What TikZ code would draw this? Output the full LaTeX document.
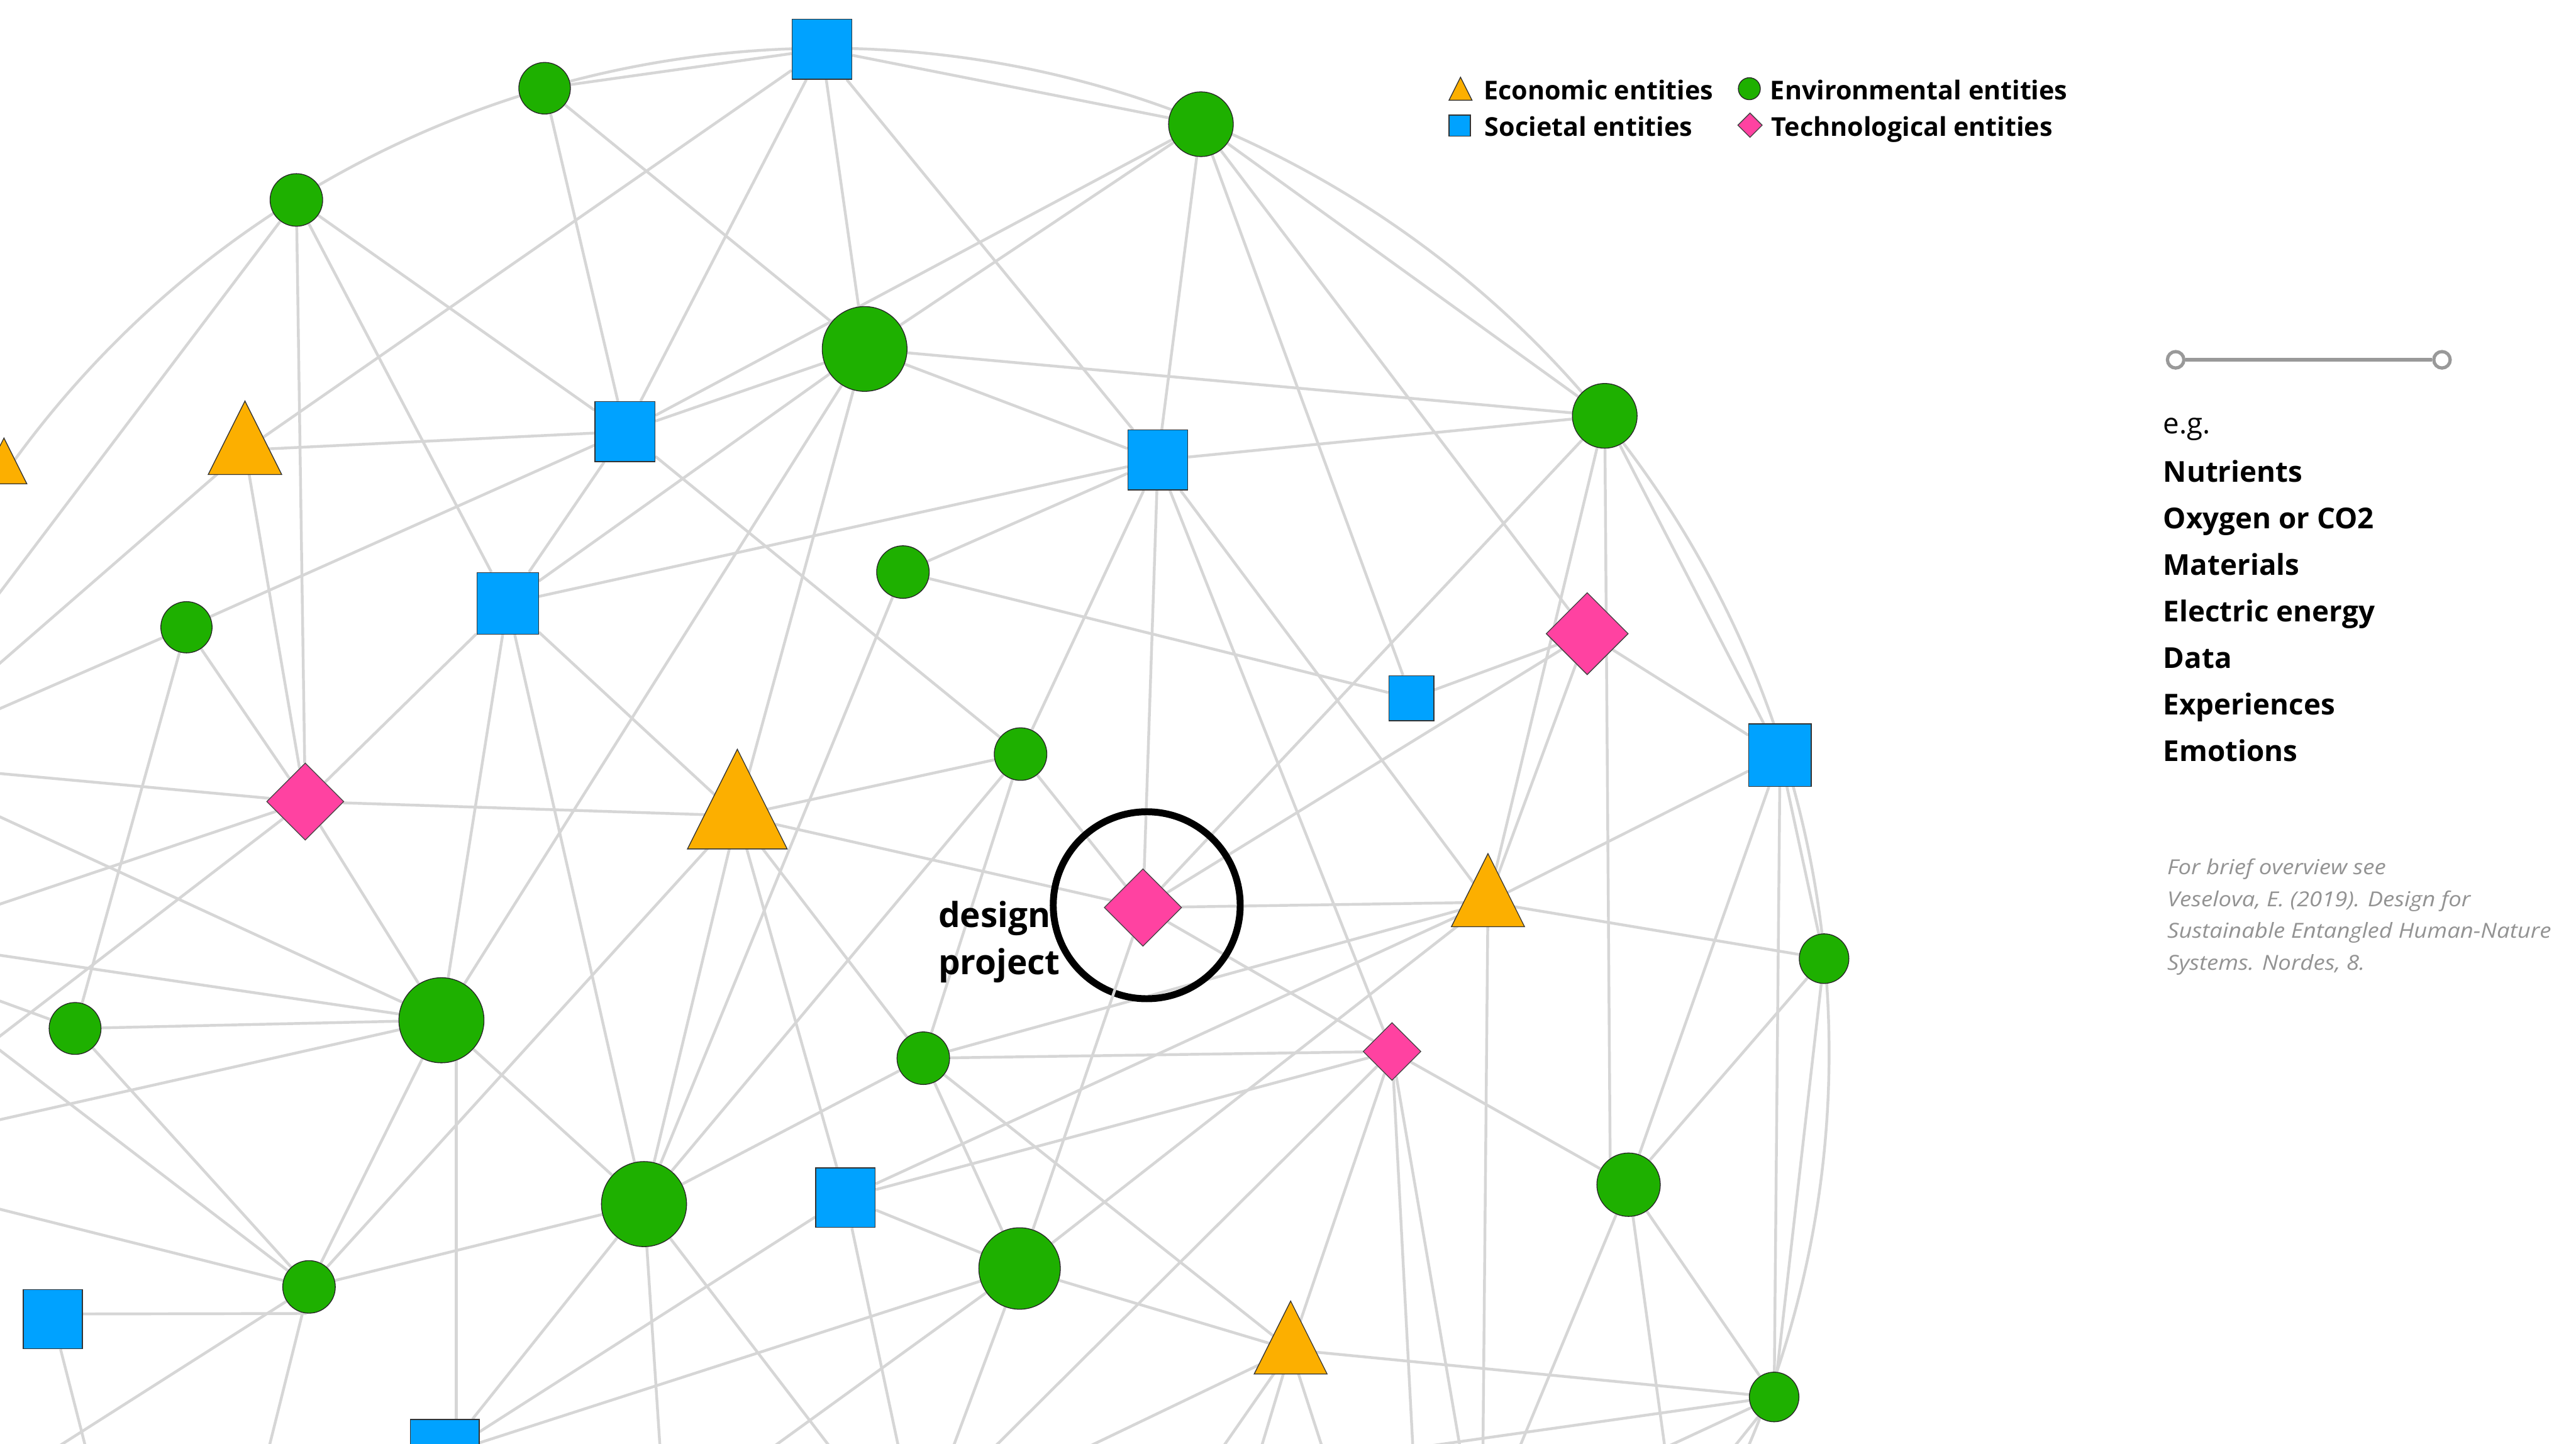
\documentclass[tikz,border=0pt]{standalone}
\usepackage{fontspec}
\setmainfont{Open Sans}
\usetikzlibrary{shapes.geometric,calc}
\pgfdeclarelayer{paper}
\pgfdeclarelayer{links}
\pgfsetlayers{paper,links,main}

\definecolor{envgreen}{HTML}{1EB000}
\definecolor{socblue}{HTML}{00A2FF}
\definecolor{ecoorange}{HTML}{FCAF00}
\definecolor{techpink}{HTML}{FF42A1}
\definecolor{edgegray}{HTML}{D6D6D6}
\definecolor{citegray}{HTML}{939393}
\definecolor{slidergray}{HTML}{999999}

% economic entity: isosceles triangle around its centroid (name, x, y, height)
\newcommand\econtri[4]{%
  \coordinate (#1) at (#2,#3);
  \filldraw[econ] ($(#1)+(0,-2/3*#4)$) -- ($(#1)+(-0.5*#4,1/3*#4)$)
     -- ($(#1)+(0.5*#4,1/3*#4)$) -- cycle;}
% citation lines are set slightly wide
\newcommand\citeline[1]{\scalebox{1.11}[1]{#1}}

\begin{document}
\begin{tikzpicture}[x=1pt,y=-1pt,
  link/.style={draw=edgegray, line width=1.7pt},
  env/.style={circle, fill=envgreen, draw=black!85, line width=0.5pt, inner sep=0pt},
  soc/.style={rectangle, fill=socblue, draw=black!80, line width=0.5pt, inner sep=0pt},
  tech/.style={diamond, aspect=1, fill=techpink, draw=black!75, line width=0.5pt, inner sep=0pt},
  econ/.style={fill=ecoorange, draw=black!80, line width=0.5pt},
  legendtext/.style={anchor=base west, inner sep=0pt, font=\fontsize{15.8}{19}\selectfont\bfseries},
  listtext/.style={anchor=base west, inner sep=0pt, font=\fontsize{17.5}{21}\selectfont\bfseries},
  citetext/.style={anchor=base west, inner sep=0pt, text=citegray, font=\fontsize{12.6}{15}\selectfont\itshape},
  labeltext/.style={anchor=base west, inner sep=0pt, font=\fontsize{21}{26}\selectfont\bfseries},
  knob/.style={circle, draw=slidergray, fill=white, line width=2pt, minimum size=10pt, inner sep=0pt}]

\begin{pgfonlayer}{paper}
  \fill[white] (0,0) rectangle (1568,878.65);
\end{pgfonlayer}
\useasboundingbox (0,0) rectangle (1568,878.65);

% environmental entities
\node[env, minimum size=31.4pt] (E1) at (331.5,53.7) {};
\node[env, minimum size=39.4pt] (E2) at (731,75.6) {};
\node[env, minimum size=32pt]   (E3) at (180.4,121.7) {};
\node[env, minimum size=51.6pt] (E4) at (526.3,212.4) {};
\node[env, minimum size=39.4pt] (E5) at (976.8,253.1) {};
\node[env, minimum size=31.2pt] (E6) at (113.5,381.8) {};
\node[env, minimum size=32pt]   (E7) at (549.6,348.2) {};
\node[env, minimum size=32pt]   (E8) at (621.2,459) {};
\node[env, minimum size=30.2pt] (E9) at (1110.3,583.5) {};
\node[env, minimum size=31.6pt] (E10) at (45.7,626) {};
\node[env, minimum size=51.8pt] (E11) at (268.7,621) {};
\node[env, minimum size=32pt]   (E12) at (562,644.1) {};
\node[env, minimum size=38.6pt] (E13) at (991.3,721.1) {};
\node[env, minimum size=51.8pt] (E14) at (392,732.9) {};
\node[env, minimum size=49.6pt] (E15) at (620.6,772.1) {};
\node[env, minimum size=32pt]   (E16) at (188.1,783.3) {};
\node[env, minimum size=30.2pt] (E17) at (1079.9,850.3) {};

% societal entities
\node[soc, minimum size=36.5pt] (S1) at (500.3,30) {};
\node[soc, minimum size=36.5pt] (S2) at (380.4,262.7) {};
\node[soc, minimum size=36.5pt] (S3) at (704.8,280) {};
\node[soc, minimum size=37.5pt] (S4) at (309,367.2) {};
\node[soc, minimum size=27.5pt] (S5) at (859.1,425) {};
\node[soc, minimum size=38pt]   (S6) at (1083.5,459.6) {};
\node[soc, minimum size=36.3pt] (S7) at (514.6,729) {};
\node[soc, minimum size=36pt]   (S8) at (32.2,803) {};
\node[soc, minimum size=42pt]   (S9) at (270.7,885) {};

% technological entities
\node[tech, minimum size=50pt]   (D1) at (966.1,385.7) {};
\node[tech, minimum size=47pt]   (D2) at (185.8,487.9) {};
\node[tech, minimum size=35.2pt] (D3) at (847.3,640) {};

% economic entities
\econtri{A0}{2.4}{285.2}{27.9}
\econtri{A1}{149.1}{273.9}{44.7}
\econtri{A2}{448.8}{496.5}{60.7}
\econtri{A3}{905.7}{549.2}{44.5}
\econtri{A4}{785.6}{821.5}{44.4}

% the design project
\node[tech, minimum size=47.2pt] (Dp) at (695.7,552.4) {};
\coordinate (ringC) at (698,551);
\node[labeltext] (lab1) at (571,564.6) {design};
\node[labeltext] (lab2) at (571,593) {project};

% loose ends leaving the frame
\coordinate (oE3) at (-20,387);
\coordinate (oA1) at (-20,421);
\coordinate (oE6) at (-20,440);
\coordinate (oD2a) at (-20,469);
\coordinate (oD2b) at (-20,557);
\coordinate (oD2c) at (-20,646);
\coordinate (oE11a) at (-20,488);
\coordinate (oE11b) at (-20,578.5);
\coordinate (oE11c) at (-20,686);
\coordinate (oE10) at (-20,602);
\coordinate (oE16a) at (-20,624);
\coordinate (oE16b) at (-20,731);
\coordinate (oE16c) at (4.8,900);
\coordinate (oE16d) at (159,900);
\coordinate (oS8) at (57,900);
\coordinate (oE14a) at (403,900);
\coordinate (oE14b) at (520,900);
\coordinate (oS7) at (551,900);
\coordinate (oE15a) at (444,900);
\coordinate (oE15b) at (573,900);
\coordinate (oD3a) at (586,900);
\coordinate (oA4a) at (622,900);
\coordinate (oA4b) at (731,900);
\coordinate (oA4c) at (762,900);
\coordinate (oA4d) at (811,900);
\coordinate (oD3b) at (861,900);
\coordinate (oD3c) at (892,900);
\coordinate (oA3) at (902.5,900);
\coordinate (oE13a) at (917,900);
\coordinate (oE13b) at (1016,900);
\coordinate (oE17a) at (730,900);
\coordinate (oE17b) at (973,900);
\coordinate (oE17c) at (1040,900);
\coordinate (rimC) at (502.3,640.4);

\begin{pgfonlayer}{links}
  % outer rim through the boundary entities
  \draw[link] (rimC) ++(-146:611) arc[start angle=-146, end angle=25, radius=611];
  \foreach \a/\b in {E1/S1, S1/E2, E2/E5, E5/S6, S6/E9, E9/E17,
    S1/A1, S1/S2, S1/E4, S1/S3,
    E1/S2, E1/E4,
    E3/D2, E3/S4, E3/S2, E3/oE3,
    A1/S2, A1/D2, A1/oA1,
    S2/S4, S2/E4, S2/E2, S2/E6, S2/E8,
    E4/E2, E4/E5, E4/S4, E4/S3, E4/A2, E4/E11,
    E2/S3, E2/D1, E2/S5,
    S3/S4, S3/E7, S3/E8, S3/Dp, S3/D3, S3/A3, S3/E5,
    E5/Dp, E5/A3, E5/E13.125,
    S4/D2, S4/E11, S4/E14, S4/A2,
    E6/D2, E6/E10, E6/oE6,
    E7/S5, E7/E14,
    D1/S5, D1/S6, D1/A3, D1/Dp,
    S6/A3, S6/E13, S6/E17,
    D2/A2, D2/E11, D2/oD2a, D2/oD2b, D2/oD2c,
    A2/E8, A2/Dp, A2/S7, A2/E12, A2/E14, A2/E16,
    E8/E14, E8/E12, E8/Dp,
    Dp/A3, Dp/D3,
    A3/E9, A3/E12, A3/S7, A3/E15, A3/oA3,
    E9/E13,
    E10/E11, E10/E16, E10/oE10,
    E11/E14, E11/E16, E11/oE11a, E11/oE11b, E11/oE11c,
    E12/E14, E12/E15, E12/D3, E12/A4,
    D3/S7, D3/A4, D3/E13, D3/oD3a, D3/oD3b, D3/oD3c,
    E13/E17, E13/oE13a, E13/oE13b,
    S7/E15, S7/S9, S7/oS7,
    E14/E16, E14/S9, E14/oE14a, E14/oE14b,
    E15/S9, E15/A4, E15/oE15a, E15/oE15b,
    E16/oE16a, E16/oE16b, E16/oE16c, E16/oE16d,
    S8/oS8,
    A4/E17, A4/oA4a, A4/oA4b, A4/oA4c, A4/oA4d,
    E17/oE17a, E17/oE17b, E17/oE17c}
    \draw[link] (\a) -- (\b);
  \draw[link] (S8.10) -- (E16.-95);
  \draw[link] (E11.-70) -- (E11.-70 |- S9.north);
  % ring marking the design project
  \draw[line width=4.2pt] (ringC) circle[radius=56.9];
  \draw[link] (Dp) -- (E15);
\end{pgfonlayer}

% legend
\filldraw[econ] (889,47) -- (882,61) -- (896,61) -- cycle;
\node[legendtext] (lg1) at (903,60.5) {Economic entities};
\node[env, minimum size=13.4pt] (lgE) at (1064.8,54) {};
\node[legendtext] (lg2) at (1077.4,60.5) {Environmental entities};
\node[soc, minimum size=13pt] (lgS) at (888.5,76.5) {};
\node[legendtext] (lg3) at (903.6,83) {Societal entities};
\node[tech, minimum size=15pt] (lgD) at (1065.2,76.2) {};
\node[legendtext] (lg4) at (1078,83) {Technological entities};

% flow examples
\node[knob] (knobL) at (1324.3,219) {};
\node[knob] (knobR) at (1486.4,219) {};
\draw[slidergray, line width=2.3pt] (knobL) -- (knobR);
\node[anchor=base west, inner sep=0pt, font=\fontsize{17.5}{21}\selectfont] (eg) at (1316.6,264) {e.g.};
\node[listtext] (f1) at (1316.6,293.5) {Nutrients};
\node[listtext] (f2) at (1316.6,321.8) {Oxygen or CO2};
\node[listtext] (f3) at (1316.6,350) {Materials};
\node[listtext] (f4) at (1316.6,378.3) {Electric energy};
\node[listtext] (f5) at (1316.6,406.6) {Data};
\node[listtext] (f6) at (1316.6,435) {Experiences};
\node[listtext] (f7) at (1316.6,463.3) {Emotions};

% reference
\node[citetext] (c1) at (1319,532.4) {\citeline{For brief overview see}};
\node[citetext] (c2) at (1319,551.7) {\citeline{Veselova, E. (2019). Design for}};
\node[citetext] (c3) at (1319,571) {\citeline{Sustainable Entangled Human-Nature}};
\node[citetext] (c4) at (1319,590.3) {\citeline{Systems. Nordes, 8.}};
\end{tikzpicture}
\end{document}
